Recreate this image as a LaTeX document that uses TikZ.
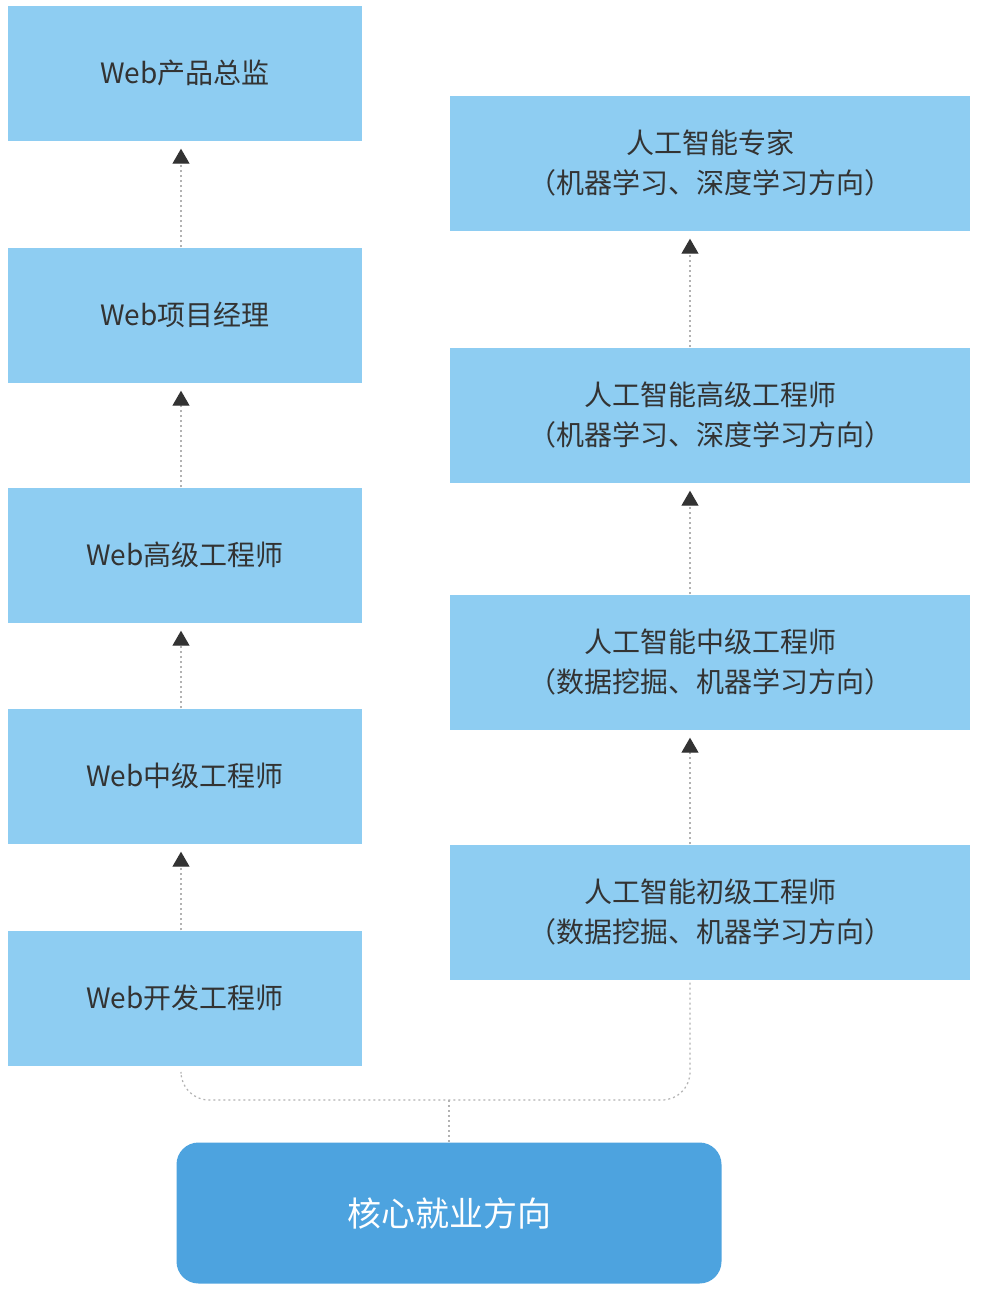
\documentclass[tikz,border=0pt]{standalone}
\usepackage{fontspec}
\newfontfamily\cjk{Noto Sans CJK SC}
\usetikzlibrary{arrows.meta}
\definecolor{lb}{HTML}{8ECDF2}
\definecolor{db}{HTML}{4DA3DF}
\definecolor{tx}{HTML}{333333}
\begin{document}
\begin{tikzpicture}[x=1pt,y=-1pt,
  lbox/.style={fill=lb,inner sep=0pt,text=tx,font=\cjk\fontsize{28}{40}\selectfont,align=center},
  conn/.style={draw=gray!60,line width=1.2pt,dash pattern=on 2pt off 3pt},
  arr/.style={conn,-{Triangle[length=15pt,width=17pt,color=black!80]},shorten >=8pt}]
\useasboundingbox (0,0) rectangle (984,1294);
\fill[white] (0,0) rectangle (984,1294);
\node[lbox,minimum width=354pt,minimum height=135pt] (l1) at (185,73) {Web产品总监};
\node[lbox,minimum width=354pt,minimum height=135pt] (l2) at (185,315) {Web项目经理};
\node[lbox,minimum width=354pt,minimum height=135pt] (l3) at (185,555) {Web高级工程师};
\node[lbox,minimum width=354pt,minimum height=135pt] (l4) at (185,776) {Web中级工程师};
\node[lbox,minimum width=354pt,minimum height=135pt] (l5) at (185,998) {Web开发工程师};
\node[lbox,minimum width=520pt,minimum height=135pt] (r1) at (710,163) {人工智能专家\\（机器学习、深度学习方向）};
\node[lbox,minimum width=520pt,minimum height=135pt] (r2) at (710,415) {人工智能高级工程师\\（机器学习、深度学习方向）};
\node[lbox,minimum width=520pt,minimum height=135pt] (r3) at (710,662) {人工智能中级工程师\\（数据挖掘、机器学习方向）};
\node[lbox,minimum width=520pt,minimum height=135pt] (r4) at (710,912) {人工智能初级工程师\\（数据挖掘、机器学习方向）};
\node[fill=db,rounded corners=22pt,minimum width=545pt,minimum height=141pt,text=white,font=\cjk\fontsize{34}{40}\selectfont] (c) at (449,1213) {核心就业方向};
\foreach \a/\b in {l2/l1,l3/l2,l4/l3,l5/l4}{\draw[arr] ([xshift=-4pt]\a.north) -- ([xshift=-4pt]\b.south);}
\foreach \a/\b in {r2/r1,r3/r2,r4/r3}{\draw[arr] ([xshift=-20pt]\a.north) -- ([xshift=-20pt]\b.south);}
\coordinate (m) at (449,1100);
\draw[conn,rounded corners=28pt] ([xshift=-4pt,yshift=-8pt]l5.south) |- (m) -| ([xshift=-20pt]r4.south);
\draw[conn] (m) -- (c.north);
\end{tikzpicture}
\end{document}
